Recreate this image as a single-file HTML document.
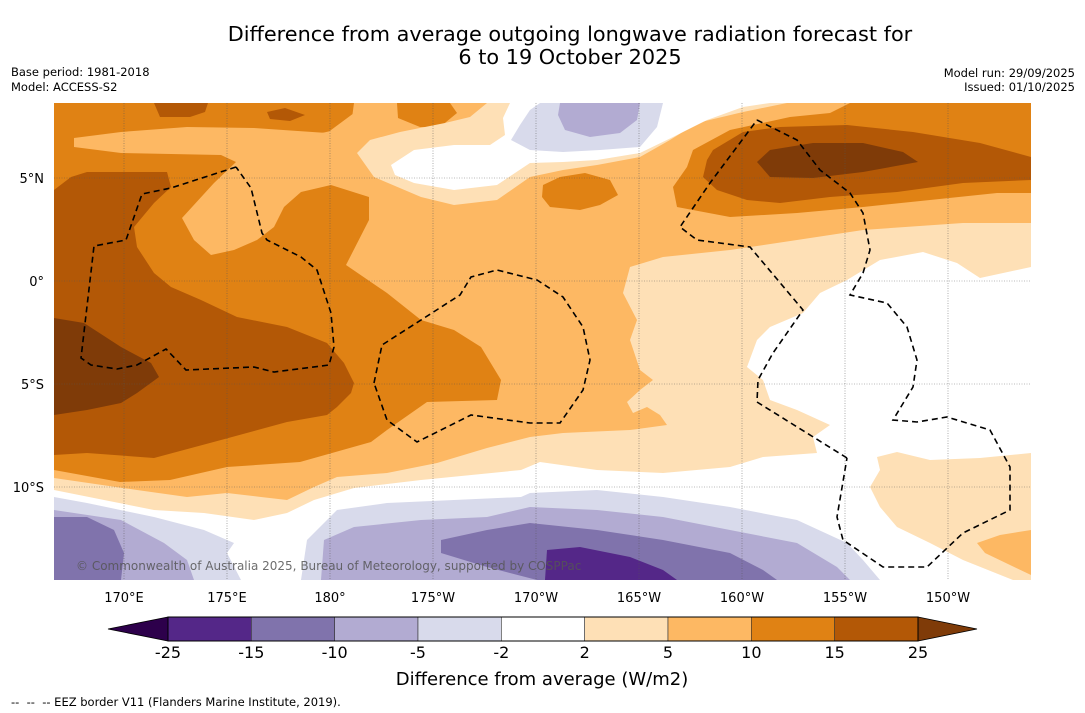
<!DOCTYPE html>
<html><head><meta charset="utf-8">
<style>
html,body{margin:0;padding:0;background:#fff;}
body{width:1085px;height:713px;overflow:hidden;font-family:"DejaVu Sans","Liberation Sans",sans-serif;}
svg{display:block}
</style></head>
<body>
<svg id="chart" width="1085" height="713" viewBox="0 0 1085 713" xmlns="http://www.w3.org/2000/svg" font-family="DejaVu Sans, Liberation Sans, sans-serif">
<rect width="1085" height="713" fill="#fff"/>
<text x="570" y="41" text-anchor="middle" font-size="20.8" fill="#000">Difference from average outgoing longwave radiation forecast for</text>
<text x="570" y="64" text-anchor="middle" font-size="20.8" fill="#000">6 to 19 October 2025</text>
<text x="11" y="76" font-size="11.5">Base period: 1981-2018</text>
<text x="11" y="91" font-size="11.5">Model: ACCESS-S2</text>
<text x="1075" y="77" font-size="11.5" text-anchor="end">Model run: 29/09/2025</text>
<text x="1075" y="91" font-size="11.5" text-anchor="end">Issued: 01/10/2025</text>
<defs><clipPath id="mapclip"><rect x="54" y="103" width="977" height="477"/></clipPath></defs>
<g id="map" clip-path="url(#mapclip)" stroke="none">
<rect x="54" y="103" width="977" height="477" fill="#fdb863"/>
<polygon fill="#e08214" points="54,103 354,103 352,118 335,130 300,138 280,160 300,185 331,185 369,197 369,220 346,265 387,293 421,320 454,330 481,347 501,380 497,400 427,402 387,430 371,442 300,462 227,467 170,480 120,482 54,470"/>
<polygon fill="#fdb863" points="74,138 121,132 187,127 254,128 327,133 354,113 370,120 370,190 331,185 301,192 284,207 274,227 257,240 234,250 211,255 194,240 182,218 214,183 236,162 221,155 121,153 74,147"/>
<polygon fill="#b35806" points="54,190 71,177 87,172 167,172 171,187 154,203 134,227 137,247 154,273 171,287 201,300 237,317 287,327 327,343 344,363 354,383 351,393 337,407 327,415 287,422 221,440 154,458 87,453 54,455"/>
<polygon fill="#7f3b08" points="54,318 84,323 121,347 151,363 159,377 137,393 121,403 87,410 54,415"/>
<polygon fill="#b35806" points="154,103 208,103 205,112 190,117 160,117"/>
<polygon fill="#b35806" points="267,112 285,108 305,115 290,121 270,119"/>
<polygon fill="#e08214" points="397,103 450,103 457,113 440,127 420,127 398,118"/>
<polygon fill="#fee0b6" points="357,153 370,140 400,132 445,123 470,117 487,103 787,103 743,112 697,123 670,140 640,157 597,165 563,170 530,177 497,200 454,205 421,197 374,177"/>
<polygon fill="#ffffff" points="391,165 414,150 454,145 490,145 505,135 503,118 510,103 770,103 743,107 707,120 673,137 640,153 597,160 563,162 530,163 497,185 454,190 414,183 395,175"/>
<polygon fill="#d8daeb" points="511,140 520,125 530,110 540,103 663,103 657,127 640,147 600,150 563,152 530,150"/>
<polygon fill="#b2abd2" points="560,103 640,103 637,120 620,133 590,137 565,130 558,115"/>
<polygon fill="#e08214" points="543,185 560,177 585,173 610,180 618,195 600,205 580,210 550,207 542,197"/>
<polygon fill="#e08214" points="850,103 1031,103 1031,193 997,193 930,200 863,207 797,213 730,217 677,207 673,187 687,167 693,150 730,130 790,117 830,113"/>
<polygon fill="#b35806" points="713,150 743,132 780,127 847,125 913,132 980,143 1031,157 1031,180 963,183 897,192 830,197 780,203 747,200 717,190 703,177 707,160"/>
<polygon fill="#7f3b08" points="757,162 770,150 813,143 863,143 903,152 918,162 863,172 813,178 770,177"/>
<polygon fill="#fee0b6" points="1031,223 963,223 863,230 797,240 730,250 663,257 630,267 623,293 637,320 630,340 640,370 653,380 640,390 627,402 633,413 647,407 660,415 667,425 630,430 563,433 530,437 487,448 437,463 387,473 337,477 314,487 287,500 261,497 227,493 187,497 137,490 54,478 54,580 1031,580"/>
<polygon fill="#ffffff" points="1031,267 980,278 957,263 923,252 880,260 847,280 820,293 803,313 770,327 757,340 747,367 763,380 770,400 797,410 830,425 813,437 817,453 763,457 730,467 663,473 597,470 540,462 521,470 421,480 354,488 314,500 287,513 254,520 204,513 154,510 104,500 54,490 54,580 1031,580"/>
<polygon fill="#fee0b6" points="877,457 897,452 930,460 980,458 1031,453 1031,580 1013,580 963,560 930,543 897,527 880,507 870,487 880,470"/>
<polygon fill="#fdb863" points="977,543 1000,535 1031,530 1031,575 1010,565 985,553"/>
<polygon fill="#d8daeb" points="54,497 87,503 154,517 204,530 234,543 227,553 241,580 54,580"/>
<polygon fill="#d8daeb" points="301,580 307,540 337,510 387,503 454,500 521,497 530,493 597,490 663,497 730,507 797,520 847,543 863,560 880,580"/>
<polygon fill="#b2abd2" points="54,510 121,520 164,543 187,560 194,580 54,580"/>
<polygon fill="#b2abd2" points="321,580 324,540 354,527 421,520 487,517 530,507 597,510 663,517 730,530 797,543 837,567 850,580"/>
<polygon fill="#8073ac" points="54,517 87,517 114,530 124,553 121,580 54,580"/>
<polygon fill="#8073ac" points="441,540 487,530 530,523 597,530 663,540 730,553 763,570 777,580 537,580 487,567 441,553"/>
<polygon fill="#542788" points="547,550 580,547 630,557 663,570 677,580 545,580"/>
<g id="grid" stroke="#555" stroke-width="0.6" stroke-dasharray="1,1.5" opacity="0.8"></g>
<g fill="none" stroke="#000" stroke-width="1.6" stroke-dasharray="6,4">
<polyline points="236,167 171,188 142,194 126,240 94,246 81,358 91,365 117,369 137,365 166,349 186,370 254,367 274,372 329,365 334,347 331,313 317,270 301,257 267,240 262,233 251,188 236,167"/>
<polyline points="374,383 382,345 421,320 460,295 471,277 497,270 537,280 563,297 583,327 590,360 583,390 560,423 530,423 471,415 417,442 387,420 374,383"/>
<polyline points="757,120 797,140 820,170 850,193 863,213 870,250 863,273 850,295 887,303 907,327 917,360 913,387 893,420 917,422 947,417 990,430 1010,467 1010,510 963,533 927,567 883,567 843,540 837,517 847,458"/>
<polyline points="847,458 757,402 758,380 773,353 803,310 750,247 697,240 680,227 710,183 757,120"/>
</g>
<text x="76" y="570" font-size="12" fill="#555" opacity="0.85">© Commonwealth of Australia 2025, Bureau of Meteorology, supported by COSPPac</text>
</g>
<g id="axislabels" font-size="13" fill="#000"></g>
<g id="colorbar"></g>
<text x="542" y="685" text-anchor="middle" font-size="18">Difference from average (W/m2)</text>
<text x="11" y="706" font-size="11.5" xml:space="preserve" style="white-space:pre">--  --  -- EEZ border V11 (Flanders Marine Institute, 2019).</text>
</svg>
<script>
const NS='http://www.w3.org/2000/svg';
const lonTicks=[170,175,180,185,190,195,200,205,210];
const lonLabels=['170°E','175°E','180°','175°W','170°W','165°W','160°W','155°W','150°W'];
const latTicks=[5,0,-5,-10];
const latLabels=['5°N','0°','5°S','10°S'];
const levelLabels=['-25','-15','-10','-5','-2','2','5','10','15','25'];
const binColors=['#542788','#8073ac','#b2abd2','#d8daeb','#ffffff','#fee0b6','#fdb863','#e08214','#b35806'];
const underColor='#2d004b', overColor='#7f3b08';
function xLon(l){return 124+(l-170)*20.6;}
function yLat(l){return 281-l*20.6;}
const grid=document.getElementById('grid'),ax=document.getElementById('axislabels'),cb=document.getElementById('colorbar');
function mk(tag,attrs,parent){const e=document.createElementNS(NS,tag);for(const k in attrs)e.setAttribute(k,attrs[k]);parent.appendChild(e);return e;}
lonTicks.forEach((l,i)=>{
  const ln=mk('line',{x1:xLon(l),x2:xLon(l),y1:103,y2:580},grid);
  
  
  const t=mk('text',{x:xLon(l),y:602,'text-anchor':'middle'},ax);
  
  
  t.textContent=lonLabels[i];
});
latTicks.forEach((l,i)=>{
  const ln=mk('line',{x1:54,x2:1031,y1:yLat(l),y2:yLat(l)},grid);
  
  
  const t=mk('text',{x:44,y:yLat(l)+5,'text-anchor':'end'},ax);
  
  
  t.textContent=latLabels[i];
});
const cbX0=168,cbX1=918,cbY=617,cbH=24,segW=(cbX1-cbX0)/binColors.length;
const u=mk('polygon',{points:`${cbX0},${cbY} ${108},${cbY+cbH/2} ${cbX0},${cbY+cbH}`,fill:underColor,stroke:'#000','stroke-width':0.8},cb);


const o=mk('polygon',{points:`${cbX1},${cbY} ${977},${cbY+cbH/2} ${cbX1},${cbY+cbH}`,fill:overColor,stroke:'#000','stroke-width':0.8},cb);


binColors.forEach((c,i)=>{
  const r=mk('rect',{x:cbX0+i*segW,y:cbY,width:segW,height:cbH,fill:c,stroke:'#333','stroke-width':0.6},cb);
  
  
});
mk('rect',{x:cbX0,y:cbY,width:cbX1-cbX0,height:cbH,fill:'none',stroke:'#000','stroke-width':1},cb);
levelLabels.forEach((s,i)=>{
  const t=mk('text',{x:cbX0+i*segW,y:658,'text-anchor':'middle','font-size':16},cb);
  
  
  t.textContent=s;
});
</script>
</body></html>
